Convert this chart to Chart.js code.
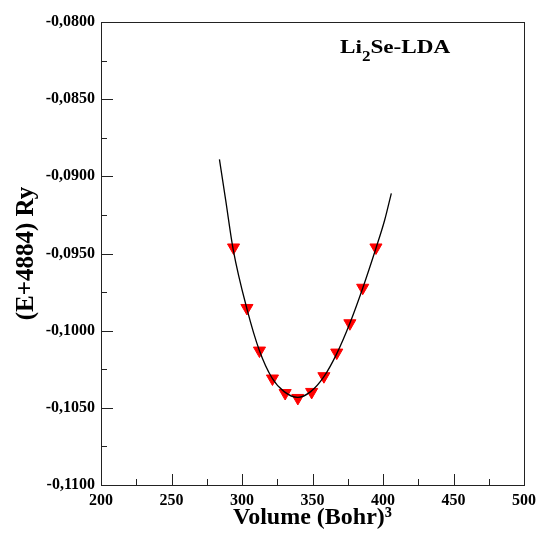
<!DOCTYPE html>
<html>
<head>
<meta charset="utf-8">
<script src="https://cdn.jsdelivr.net/npm/chart.js@4/dist/chart.umd.min.js"></script>
<style>
  html, body { margin: 0; padding: 0; background: #ffffff; }
  canvas { display: block; }
</style>
</head>
<body>
<canvas id="c" width="542" height="541"></canvas>
<script>
// ---- Data ----
const volumes = [294.0, 303.5, 312.4, 321.6, 330.6, 339.6, 349.4, 358.1, 367.2, 376.5, 385.6, 395.0];
const energies = [-0.09461, -0.09853, -0.10129, -0.10310, -0.10404, -0.10436, -0.10397, -0.10295, -0.10142, -0.09952, -0.09722, -0.09461];

const fitVolumes = [284.0, 288.4, 293.7, 303.6, 312.2, 321.2, 329.9, 339.6, 348.7, 358.1, 367.3, 376.5, 385.6, 395.0, 401.2, 405.9];
const fitEnergies = [-0.08890, -0.09153, -0.09471, -0.09862, -0.10125, -0.10305, -0.10395, -0.10432, -0.10395, -0.10298, -0.10147, -0.09952, -0.09725, -0.09466, -0.09283, -0.09110];

const xTickLabels = ['200', '250', '300', '350', '400', '450', '500'];
const yTickLabels = ['-0,1100', '-0,1050', '-0,1000', '-0,0950', '-0,0900', '-0,0850', '-0,0800'];

const xTitle = 'Volume (Bohr)\u00B3';
const yTitle = '(E+4884) Ry';
const labelMain = 'Li';
const labelSub = '2';
const labelRest = 'Se-LDA';

const serif = '"Liberation Serif", "Times New Roman", serif';

// Frame + inward ticks + label plugin
const framePlugin = {
  id: 'framePlugin',
  beforeDatasetsDraw(chart) {
    const { ctx, chartArea: a, scales: { x, y } } = chart;
    ctx.save();
    ctx.strokeStyle = '#222';
    ctx.lineWidth = 1;
    ctx.strokeRect(Math.round(a.left) + 0.5, Math.round(a.top) + 0.5,
                   Math.round(a.right - a.left), Math.round(a.bottom - a.top));
    ctx.beginPath();
    const xt = x.ticks;
    for (let i = 0; i < xt.length; i++) {
      const px = Math.round(x.getPixelForValue(xt[i].value)) + 0.5;
      ctx.moveTo(px, a.bottom); ctx.lineTo(px, a.bottom - 11);
      if (i < xt.length - 1) {
        const mx = Math.round(x.getPixelForValue((xt[i].value + xt[i + 1].value) / 2)) + 0.5;
        ctx.moveTo(mx, a.bottom); ctx.lineTo(mx, a.bottom - 6);
      }
    }
    const yt = y.ticks;
    for (let i = 0; i < yt.length; i++) {
      const py = Math.round(y.getPixelForValue(yt[i].value)) + 0.5;
      ctx.moveTo(a.left, py); ctx.lineTo(a.left + 12, py);
      if (i < yt.length - 1) {
        const my = Math.round(y.getPixelForValue((yt[i].value + yt[i + 1].value) / 2)) + 0.5;
        ctx.moveTo(a.left, my); ctx.lineTo(a.left + 6, my);
      }
    }
    ctx.stroke();
    ctx.restore();
  },
  afterDraw(chart) {
    const { ctx, chartArea: a } = chart;
    ctx.save();
    ctx.fillStyle = '#000';
    ctx.textBaseline = 'alphabetic';
    ctx.textAlign = 'left';
    const x0 = a.left + 239, base = a.top + 31;
    ctx.translate(x0, base);
    ctx.scale(1.22, 1);
    ctx.font = 'bold 19px ' + serif;
    ctx.fillText(labelMain, 0, 0);
    let w = ctx.measureText(labelMain).width;
    ctx.font = 'bold 14px ' + serif;
    ctx.fillText(labelSub, w, 8);
    w += ctx.measureText(labelSub).width;
    ctx.font = 'bold 19px ' + serif;
    ctx.fillText(labelRest, w, 0);
    ctx.restore();
  }
};

new Chart(document.getElementById('c'), {
  type: 'scatter',
  data: {
    datasets: [
      {
        type: 'line',
        label: 'fit',
        data: fitVolumes.map((v, i) => ({ x: v, y: fitEnergies[i] })),
        borderColor: '#000',
        borderWidth: 1.3,
        pointRadius: 0,
        fill: false,
        cubicInterpolationMode: 'monotone',
        order: 0
      },
      {
        label: 'LDA',
        data: volumes.map((v, i) => ({ x: v, y: energies[i] })),
        pointStyle: 'triangle',
        rotation: 180,
        pointRadius: 7,
        pointHoverRadius: 7,
        backgroundColor: '#ff0000',
        borderColor: '#ff0000',
        borderWidth: 1,
        order: 1
      }
    ]
  },
  options: {
    responsive: false,
    animation: false,
    layout: { padding: { top: 22, right: 16, left: 0, bottom: 0 } },
    plugins: {
      legend: { display: false },
      tooltip: { enabled: false }
    },
    scales: {
      x: {
        type: 'linear',
        min: 200, max: 500,
        grid: { display: false, drawTicks: false },
        border: { display: false },
        ticks: {
          stepSize: 50,
          padding: 6,
          color: '#000',
          font: { family: serif, size: 16, weight: 'bold' },
          callback: (v, i) => xTickLabels[i]
        },
        title: {
          display: true,
          text: xTitle,
          color: '#000',
          font: { family: serif, size: 24, weight: 'bold', lineHeight: 1.2 },
          padding: { top: 0, bottom: 9 }
        },
        afterFit: (s) => { s.height = 56; }
      },
      y: {
        type: 'linear',
        min: -0.11, max: -0.08,
        grid: { display: false, drawTicks: false },
        border: { display: false },
        ticks: {
          stepSize: 0.005,
          padding: 6,
          color: '#000',
          font: { family: serif, size: 16, weight: 'bold' },
          callback: (v, i) => yTickLabels[i]
        },
        title: {
          display: true,
          text: yTitle,
          color: '#000',
          font: { family: serif, size: 25, weight: 'bold', lineHeight: 1.2 },
          padding: { top: 12, bottom: 0 }
        },
        afterFit: (s) => { s.width = 101; }
      }
    }
  },
  plugins: [framePlugin]
});
</script>
</body>
</html>
